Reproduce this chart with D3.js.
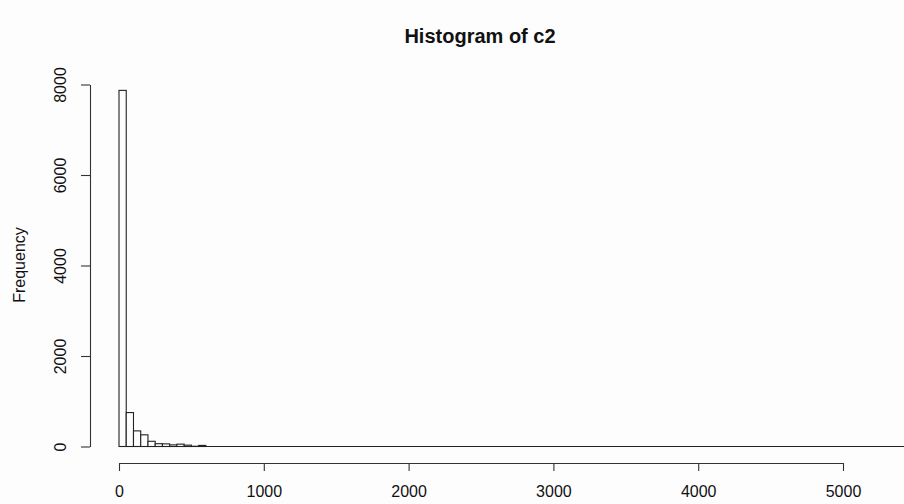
<!DOCTYPE html>
<html>
  <head>
    <meta charset="utf-8">
    <title>Histogram of c2</title>
    <script src="https://d3js.org/d3.v7.min.js"></script>
    <style>
      body { margin: 0; background: #fdfdfd; }
      svg { font-family: "Liberation Sans", Arial, sans-serif; }
      .bar { fill: #fdfdfd; stroke: #222; stroke-width: 1.1; }
      .axis path, .axis line { stroke: #333; stroke-width: 1.1; }
      .axis text { fill: #111; font-size: 16px; }
    </style>
  </head>
  <body>
<svg id="hist" width="904" height="504"></svg>

<script>
  // histogram bins (width 50), counts
  let binStarts = [0, 50, 100, 150, 200, 250, 300, 350, 400, 450, 500, 550];
  let binCounts = [7870, 750, 345, 258, 115, 62, 58, 36, 52, 30, 6, 24];
  let binWidth = 50;
  // the remaining bins up to the last break are all empty
  let lastBreak = 5450;

  let xTicks = [0, 1000, 2000, 3000, 4000, 5000];
  let yTicks = [0, 2000, 4000, 6000, 8000];

  let svg = d3.select("#hist");

  // scales, same proportions as the R plot
  let x = d3.scaleLinear()
    .domain([0, 5000])
    .range([119, 843]);

  let y = d3.scaleLinear()
    .domain([0, 8000])
    .range([446.5, 84.5]);

  let bins = binStarts.map((s, i) => ({x0: s, x1: s + binWidth, count: binCounts[i]}));

  let plot = svg.append("g").attr("id", "plot");

  // empty bins show up as a flat line on the baseline
  plot.append("line")
    .attr("x1", x(0))
    .attr("x2", x(lastBreak))
    .attr("y1", y(0))
    .attr("y2", y(0))
    .attr("stroke", "#222")
    .attr("stroke-width", 1.1);

  plot.selectAll(".bar")
    .data(bins)
    .enter().append("rect")
    .attr("class", "bar")
    .attr("x", d => x(d.x0))
    .attr("width", d => x(d.x1) - x(d.x0))
    .attr("y", d => y(d.count))
    .attr("height", d => y(0) - y(d.count));

  // x axis sits below the plot, like R does it
  let xAxis = d3.axisBottom(x)
    .tickValues(xTicks)
    .tickFormat(d3.format("d"))
    .tickSize(8)
    .tickSizeOuter(0)
    .tickPadding(15);

  svg.append("g")
    .attr("class", "axis")
    .attr("transform", translate(0, 463))
    .call(xAxis);

  let yAxis = d3.axisLeft(y)
    .tickValues(yTicks)
    .tickFormat(d3.format("d"))
    .tickSize(9)
    .tickSizeOuter(0);

  let yGroup = svg.append("g")
    .attr("class", "axis")
    .attr("transform", translate(90, 0))
    .call(yAxis);

  // R draws the y labels parallel to the axis
  yGroup.selectAll(".tick text")
    .attr("x", null)
    .attr("dy", "0.35em")
    .attr("transform", "translate(-30,0) rotate(-90)")
    .style("text-anchor", "middle");

  // axis title
  svg.append("text")
    .attr("transform", translate(19, 265) + " rotate(-90)")
    .attr("dy", "0.35em")
    .style("text-anchor", "middle")
    .style("font-size", "16px")
    .attr("fill", "#111")
    .text("Frequency");

  // main title
  svg.append("text")
    .attr("x", 480)
    .attr("y", 43)
    .style("text-anchor", "middle")
    .style("font-size", "20px")
    .style("font-weight", "bold")
    .attr("fill", "#111")
    .text("Histogram of c2");

  // helper method to make translating easier
  function translate(x, y) {
    return 'translate(' + x + ',' + y + ')';
  }
</script>
  </body>
</html>
